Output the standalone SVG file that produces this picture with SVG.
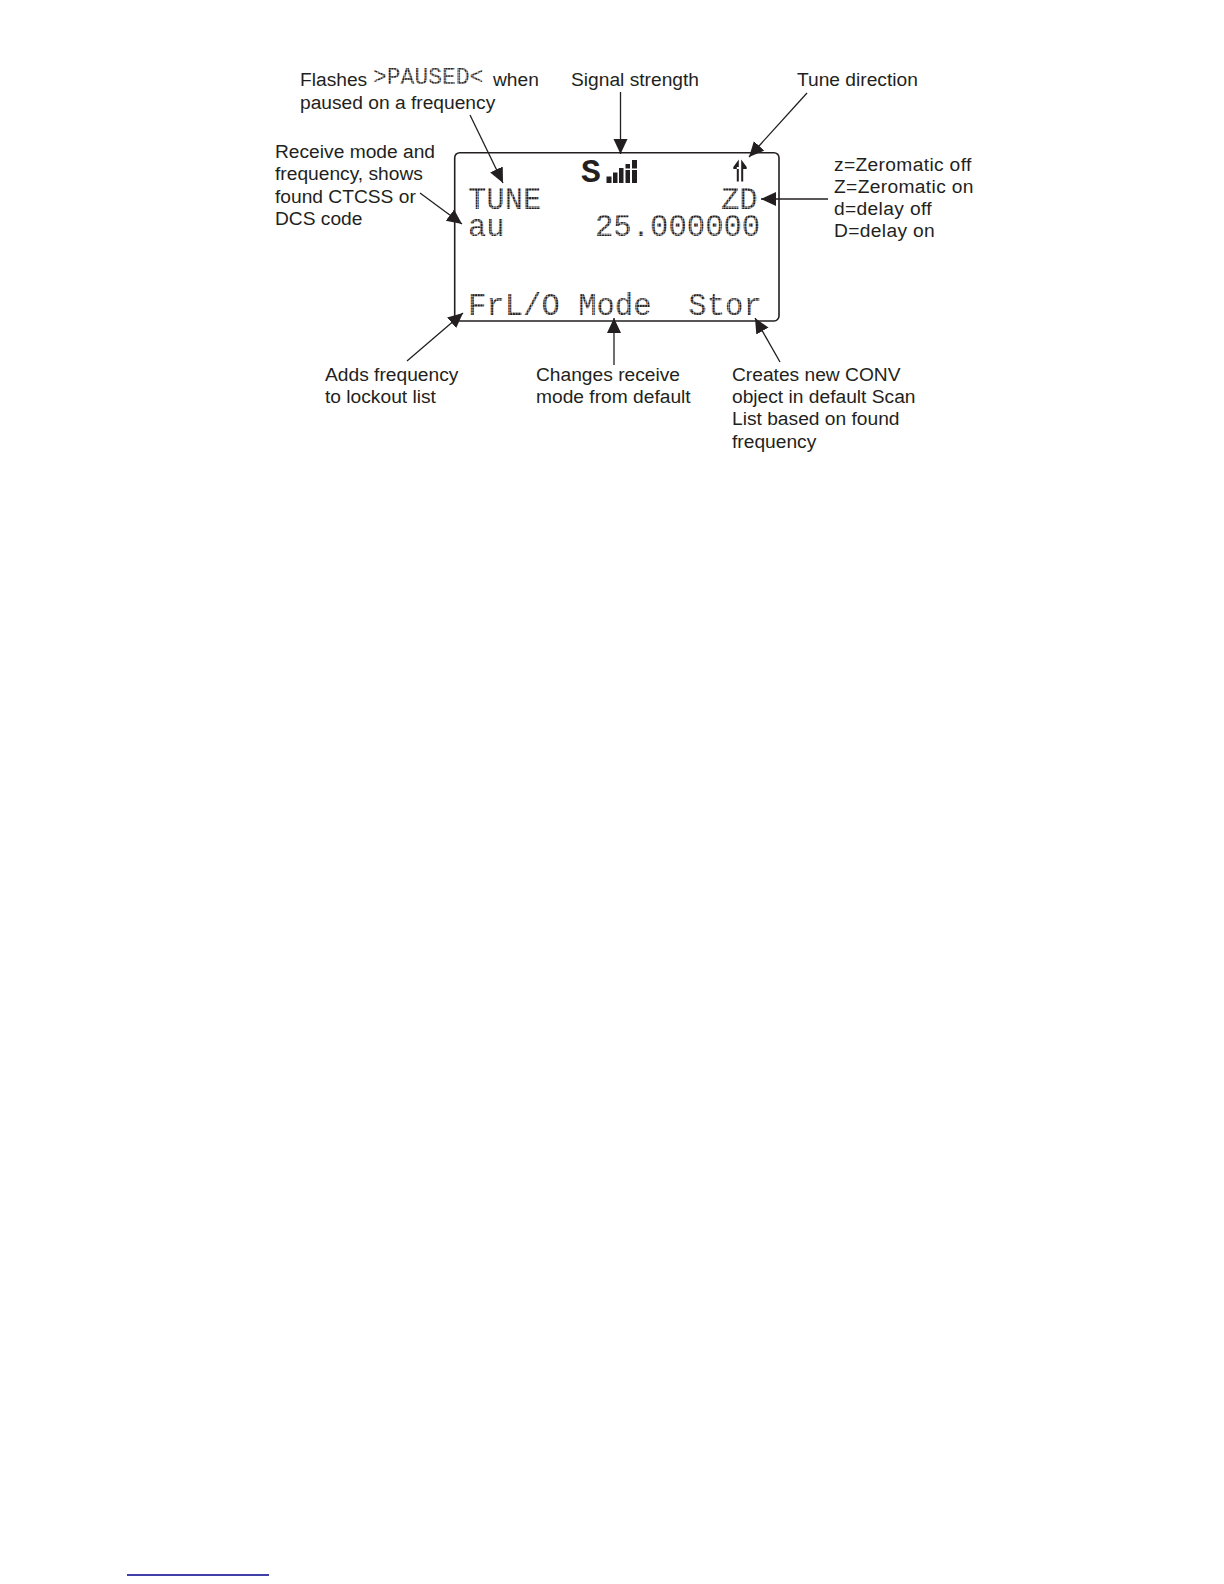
<svg xmlns="http://www.w3.org/2000/svg" width="1224" height="1584" viewBox="0 0 1224 1584">
<style>
.l{font-family:"Liberation Sans",Arial,sans-serif;font-size:19.2px;fill:#231f20}
.z{letter-spacing:.35px}
.m{font-family:"Liberation Mono","Courier New",monospace;font-size:30.6px;fill:url(#dots)}
.c{stroke:#231f20;stroke-width:1.3;fill:none;marker-end:url(#a)}
</style>
<defs>
<pattern id="dots" width="2.7" height="2.7" patternUnits="userSpaceOnUse"><rect width="2.3" height="2.3" fill="#231f20"/></pattern>
<marker id="a" markerUnits="userSpaceOnUse" markerWidth="16" markerHeight="15" refX="15" refY="7" orient="auto"><path d="M0 0L15 7L0 14z" fill="#231f20"/></marker>
</defs>
<rect width="1224" height="1584" fill="#fff"/>
<g id="display">
<rect x="454.7" y="152.7" width="324.3" height="168.300" rx="5" fill="none" stroke="#231f20" stroke-width="1.6"/>
<text class="m" x="468" y="209">TUNE</text>
<text class="m" x="721" y="209">ZD</text>
<text class="m" x="468" y="236">au</text>
<text class="m" x="595" y="236">25.000000</text>
<text class="m" x="468" y="315" xml:space="preserve">FrL/O Mode  Stor</text>
<text x="581" y="182" style="font-family:'Liberation Mono',monospace;font-size:33px;font-weight:bold;fill:#231f20">S</text>
<path fill="#231f20" d="M606.500 176.500h5v6.500h-5zM613 172.500h4.500v10.500h-4.500zM619 168h4.500v15h-4.500zM625.500 170h4.500v13h-4.500zM625.500 164h4.500v4.500h-4.500zM632 170h5v13h-5zM632 160h5v8.500h-5z"/>
<path fill="#231f20" d="M738.800 159.500l-5.500 7.500v2h5.500zM741.200 159.500l5.500 7.500v2h-5.500zM736.800 167h2v14.500h-2zM741.200 167h2v14.500h-2z"/>
</g>
<g id="label-paused"><text class="l" x="300" y="86">Flashes</text><text class="m" style="font-size:23px" x="373" y="84">&gt;PAUSED&lt;</text><text class="l" x="493" y="86">when</text><text class="l" x="300" y="109">paused on a frequency</text></g>
<g id="label-signal"><text class="l" x="571" y="86">Signal strength</text></g>
<g id="label-tune"><text class="l" x="797" y="86">Tune direction</text></g>
<g id="label-receive"><text class="l" x="275" y="158">Receive mode and</text><text class="l" x="275" y="180">frequency, shows</text><text class="l" x="275" y="202.500">found CTCSS or</text><text class="l" x="275" y="225">DCS code</text></g>
<g id="label-zero"><text class="l z" x="834" y="171">z=Zeromatic off</text><text class="l z" x="834" y="193">Z=Zeromatic on</text><text class="l z" x="834" y="215">d=delay off</text><text class="l z" x="834" y="237">D=delay on</text></g>
<g id="label-adds"><text class="l" x="325" y="381">Adds frequency</text><text class="l" x="325" y="403">to lockout list</text></g>
<g id="label-changes"><text class="l" x="536" y="381">Changes receive</text><text class="l" x="536" y="403">mode from default</text></g>
<g id="label-creates"><text class="l" x="732" y="381">Creates new CONV</text><text class="l" x="732" y="403">object in default Scan</text><text class="l" x="732" y="425">List based on found</text><text class="l" x="732" y="448">frequency</text></g>
<g id="connectors">
<path class="c" d="M470 115L503 183"/>
<path class="c" d="M620.500 92V154"/>
<path class="c" d="M807 93L749 157"/>
<path class="c" d="M828 199H761"/>
<path class="c" d="M420 193L462 224"/>
<path class="c" d="M407 361L463 313"/>
<path class="c" d="M614 365V318"/>
<path class="c" d="M780 362L755 318"/>
</g>
<path id="footnote-rule" d="M127 1575H269" stroke="#00008b" stroke-width="1.300"/>
</svg>
